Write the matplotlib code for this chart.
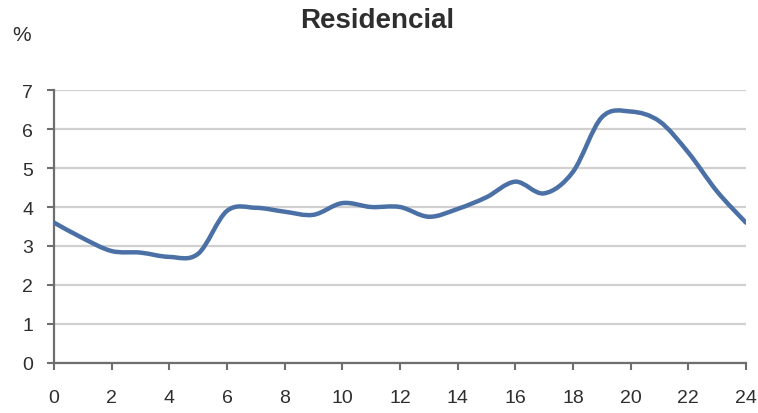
import matplotlib.pyplot as plt
import numpy as np
from matplotlib.path import Path
from matplotlib.patches import PathPatch

plt.rcParams['font.family'] = ['Liberation Sans', 'DejaVu Sans']

hours = list(range(25))
values = [3.6, 3.2, 2.87, 2.83, 2.72, 2.8, 3.9, 3.98, 3.88, 3.8, 4.1, 4.0, 4.0,
          3.75, 3.95, 4.25, 4.65, 4.35, 4.9, 6.3, 6.45, 6.2, 5.4, 4.4, 3.6]
xticks = list(range(0, 25, 2))
yticks = list(range(0, 8))


def smooth_path(x, y, t=1/6):
    # Excel-like smoothed line: Catmull-Rom segments as cubic Bezier curves
    x = np.asarray(x, float)
    y = np.asarray(y, float)
    verts = [(x[0], y[0])]
    codes = [Path.MOVETO]
    n = len(x)
    for i in range(n - 1):
        i0 = max(i - 1, 0)
        i3 = min(i + 2, n - 1)
        c1 = (x[i] + (x[i + 1] - x[i0]) * t, y[i] + (y[i + 1] - y[i0]) * t)
        c2 = (x[i + 1] - (x[i3] - x[i]) * t, y[i + 1] - (y[i3] - y[i]) * t)
        verts += [c1, c2, (x[i + 1], y[i + 1])]
        codes += [Path.CURVE4] * 3
    return Path(verts, codes)


fig = plt.figure(figsize=(7.58, 4.14), dpi=100)
ax = fig.add_axes([0.0712, 0.121, 0.9128, 0.659])

patch = PathPatch(smooth_path(hours, values), facecolor='none',
                  edgecolor='#4a70a6', lw=3.2, capstyle='round', zorder=3)
ax.add_patch(patch)

ax.set_xlim(0, 24)
ax.set_ylim(0, 7)
ax.set_xticks(xticks)
ax.set_yticks(yticks)
ax.yaxis.grid(True, color='#d0d0d0', lw=1.6)
ax.set_axisbelow(True)
for s in ['top', 'right']:
    ax.spines[s].set_visible(False)
for s in ['left', 'bottom']:
    ax.spines[s].set_color('#6e6e6e')
    ax.spines[s].set_linewidth(1.6)
ax.tick_params(axis='both', colors='#6e6e6e', width=1.5, length=5,
               labelcolor='#2e2e2e', labelsize=14)
ax.tick_params(axis='y', pad=10)
ax.tick_params(axis='x', pad=14)

fig.text(0.497, 0.95, 'Residencial', ha='center', va='center',
         fontsize=20, fontweight='bold', color='#2e2e2e')
fig.text(0.029, 0.915, '%', ha='center', va='center', fontsize=15,
         color='#2e2e2e')

fig.savefig('out.png', dpi=100)
